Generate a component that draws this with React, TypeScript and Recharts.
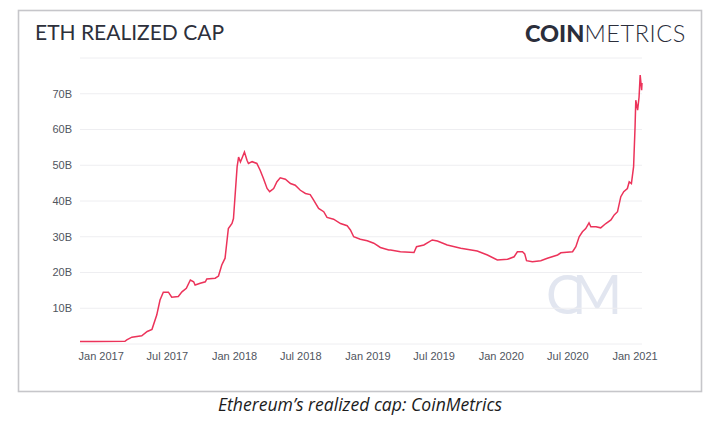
import React from "react";
import { LineChart, Line, XAxis, YAxis, CartesianGrid } from "recharts";

const dates: string[] = [
  "2016-11-04", "2016-12-15", "2017-03-07", "2017-03-12", "2017-03-26", "2017-04-22", "2017-05-07", "2017-05-20",
  "2017-06-02", "2017-06-11", "2017-06-20", "2017-07-04", "2017-07-13", "2017-07-31", "2017-08-10", "2017-08-22",
  "2017-09-02", "2017-09-11", "2017-09-15", "2017-09-29", "2017-10-13", "2017-10-17", "2017-11-09", "2017-11-18",
  "2017-11-27", "2017-12-06", "2017-12-15", "2017-12-25", "2017-12-29", "2018-01-08", "2018-01-12", "2018-01-17",
  "2018-01-21", "2018-01-28", "2018-02-04", "2018-02-08", "2018-02-18", "2018-03-03", "2018-03-12", "2018-03-21",
  "2018-03-31", "2018-04-07", "2018-04-18", "2018-04-27", "2018-05-06", "2018-05-20", "2018-06-03", "2018-06-16",
  "2018-06-30", "2018-07-14", "2018-07-27", "2018-08-05", "2018-08-19", "2018-09-02", "2018-09-11", "2018-09-29",
  "2018-10-18", "2018-11-05", "2018-11-14", "2018-11-23", "2018-12-11", "2018-12-30", "2019-01-17", "2019-02-04",
  "2019-02-27", "2019-03-04", "2019-03-31", "2019-05-07", "2019-05-14", "2019-06-03", "2019-06-26", "2019-07-10",
  "2019-08-06", "2019-09-12", "2019-10-27", "2019-11-24", "2019-12-21", "2020-01-18", "2020-02-05", "2020-02-14",
  "2020-02-28", "2020-03-05", "2020-03-10", "2020-03-26", "2020-04-18", "2020-05-06", "2020-06-03", "2020-06-12",
  "2020-07-14", "2020-07-23", "2020-08-01", "2020-08-10", "2020-08-19", "2020-08-28", "2020-09-02", "2020-09-16",
  "2020-09-29", "2020-10-13", "2020-10-27", "2020-11-05", "2020-11-14", "2020-11-23", "2020-12-01", "2020-12-11",
  "2020-12-16", "2020-12-22", "2020-12-28", "2021-01-01", "2021-01-03", "2021-01-08", "2021-01-12", "2021-01-15",
  "2021-01-19", "2021-01-20",
];

const realizedCapB: number[] = [
  0.67, 0.68, 0.75, 1.15, 1.9, 2.3, 3.5, 4.1,
  8.1, 12.3, 14.5, 14.5, 13.1, 13.3, 14.6, 15.6,
  17.9, 17.4, 16.5, 17.0, 17.4, 18.2, 18.4, 19.0,
  22.1, 24.0, 32.3, 33.7, 35.1, 49.6, 52.3, 50.9,
  51.9, 53.7, 51.4, 50.5, 51.0, 50.5, 48.6, 46.3,
  43.5, 42.6, 43.5, 45.4, 46.5, 46.1, 44.9, 44.4,
  43.0, 42.1, 41.8, 40.3, 37.9, 37.0, 35.4, 34.9,
  33.7, 33.1, 31.9, 30.0, 29.3, 28.9, 28.2, 27.0,
  26.3, 26.3, 25.8, 25.6, 27.2, 27.7, 29.1, 28.8,
  27.7, 26.8, 26.0, 24.9, 23.5, 23.7, 24.4, 25.8,
  25.8, 25.2, 23.3, 23.0, 23.3, 24.0, 24.9, 25.5,
  25.8, 27.2, 30.0, 31.4, 32.3, 33.9, 32.8, 32.8,
  32.5, 33.7, 34.7, 36.1, 37.0, 41.2, 42.6, 43.5,
  45.4, 44.9, 49.6, 60.7, 68.2, 65.4, 69.1, 75.2,
  71.0, 73.0,
];

const xTickDates: string[] = [
  "2017-01-01", "2017-07-01", "2018-01-01", "2018-07-01", "2019-01-01",
  "2019-07-01", "2020-01-01", "2020-07-01", "2021-01-01",
];
const yTicks: number[] = [10, 20, 30, 40, 50, 60, 70];

const MONTHS = ["Jan", "Feb", "Mar", "Apr", "May", "Jun", "Jul", "Aug", "Sep", "Oct", "Nov", "Dec"];
const toMs = (s: string) => Date.parse(s + "T00:00:00Z");

const data = dates.map((d, i) => ({ t: toMs(d), v: realizedCapB[i] }));
const xTicks = xTickDates.map(toMs);
const fmtX = (t: number) => {
  const d = new Date(t);
  return `${MONTHS[d.getUTCMonth()]} ${d.getUTCFullYear()}`;
};

const tickStyle = { fill: "#50555e", fontSize: 11, fontFamily: "'Liberation Sans', Arial, sans-serif" };

export default function App() {
  return (
    <div style={{ position: "absolute", left: 0, top: 0, width: 721, height: 429, background: "#fff" }}>
      <svg width={721} height={429} style={{ position: "absolute", left: 0, top: 0 }}>
        <rect x={18.5} y={10.5} width={683} height={381} fill="#fff" stroke="#c6c6ca" strokeWidth={1.6} />
        <text x={35} y={40} fontFamily="Lato, 'Open Sans', sans-serif" fontSize={21} fill="#2d303b">
          ETH REALIZED CAP
        </text>
        <text x={686} y={41.5} textAnchor="end" fontFamily="Lato, 'Open Sans', sans-serif" fontSize={23.5} fill="#2b2e3b">
          <tspan fontWeight={900}>COIN</tspan>
          <tspan fontWeight={300} letterSpacing={0.6}>METRICS</tspan>
        </text>
        <text x={546} y={314} fontFamily="Lato, sans-serif" fontWeight={400} fontSize={54} letterSpacing={-10} fill="#e2e6f0">
          CM
        </text>
        <text x={360} y={411} textAnchor="middle" fontFamily="'Open Sans', sans-serif" fontStyle="italic" fontSize={17.6} fill="#1c1c1c">
          Ethereum’s realized cap: CoinMetrics
        </text>
      </svg>
      <div style={{ position: "absolute", left: 0, top: 0 }}>
        <LineChart width={721} height={429} data={data} margin={{ top: 58, right: 79, bottom: 55, left: 20 }}>
          <CartesianGrid vertical={false} stroke="#eeeef1" />
          <XAxis
            dataKey="t"
            type="number"
            scale="linear"
            domain={[toMs("2016-11-04"), toMs("2021-01-20")]}
            ticks={xTicks}
            tickFormatter={fmtX}
            axisLine={false}
            tickLine={false}
            height={30}
            tick={tickStyle}
            interval={0}
          />
          <YAxis
            type="number"
            domain={[0, 80]}
            ticks={yTicks}
            tickFormatter={(v: number) => `${v}B`}
            axisLine={false}
            tickLine={false}
            width={60}
            tick={tickStyle}
            interval={0}
          />
          <Line
            type="linear"
            dataKey="v"
            stroke="#ec335a"
            strokeWidth={1.5}
            dot={false}
            isAnimationActive={false}
          />
        </LineChart>
      </div>
    </div>
  );
}
